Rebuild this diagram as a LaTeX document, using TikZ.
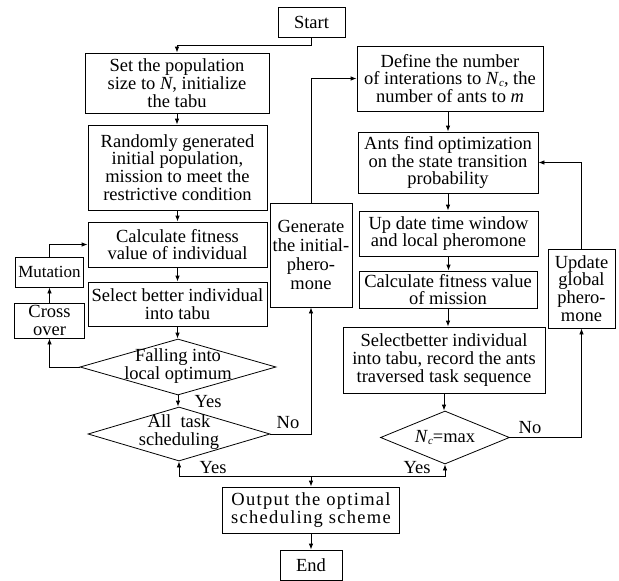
\documentclass[tikz,border=0pt]{standalone}
\usepackage{fontspec}
\setmainfont{Liberation Serif}
\usetikzlibrary{shapes.geometric,arrows.meta}
\newcommand{\mysubc}{\raisebox{-2pt}{\fontsize{11}{11}\selectfont\textit{c}}}
\begin{document}
\begin{tikzpicture}[x=1pt,y=-1pt,
  wh/.style 2 args={minimum width=#1pt,minimum height=#2pt},
  box/.style={draw,line width=0.8pt,inner sep=0pt,align=center,
    font=\fontsize{18.5}{17.7}\selectfont},
  dia/.style={draw,diamond,line width=0.8pt,inner sep=0pt},
  txt/.style={inner sep=0pt,align=center,font=\fontsize{18.5}{18.5}\selectfont},
  lbl/.style={inner sep=0pt,font=\fontsize{18.5}{18.5}\selectfont},
  arr/.style={line width=0.8pt,-{Latex[length=6pt,width=4.5pt]}},
  ln/.style={line width=0.8pt}]
\useasboundingbox (0,0) rectangle (619,581);

% left column
\node[box,wh={67}{30}] (start) at (311.5,22) {Start};
\node[box,wh={184}{60}] (set) at (177,83) {Set the population\\size to \textit{N}, initialize\\the tabu};
\node[box,wh={179}{85}] (rand) at (177.5,167.5) {Randomly generated\\initial population,\\mission to meet the\\restrictive condition};
\node[box,wh={179}{45}] (calc) at (177.5,244.5) {Calculate fitness\\value of individual};
\node[box,wh={179}{44}] (sel) at (177.5,304) {Select better individual\\into tabu};
\node[dia,wh={196}{56}] (fall) at (178,367) {};
\node[txt] (fallt) at (178,366) {Falling into\\local optimum};
\node[box,wh={68}{30},font=\fontsize{17}{17}\selectfont] (mut) at (49.5,272) {Mutation};
\node[box,wh={70}{35}] (cross) at (49.5,320.5) {Cross\\over};
\node[dia,wh={182}{54}] (all) at (179,434) {};
\node[txt] (allt) at (179,432) {All\ \ task\\scheduling};
\node[box,wh={82}{104},font=\fontsize{18.5}{18.8}\selectfont] (gen) at (311,255) {Generate\\the initial-\\phero-\\mone};

% right column
\node[box,wh={186}{65}] (def) at (450,78.5) {Define the number\\of interations to \textit{N}\mysubc, the\\number of ants to \textit{m}};
\node[box,wh={180}{61}] (ants) at (448,162.5) {Ants find optimization\\on the state transition\\probability};
\node[box,wh={179}{45}] (upd) at (448.5,233.5) {Up date time window\\and local pheromone};
\node[box,wh={178}{37}] (calm) at (448,289.5) {Calculate fitness value\\of mission};
\node[box,wh={202}{66}] (selb) at (444,360) {Selectbetter individual\\into tabu, record the ants\\traversed task sequence};
\node[dia,wh={129}{53}] (nc) at (445,437.5) {};
\node[txt] (nct) at (445,437.5) {\textit{N}\mysubc=max};
\node[box,wh={67}{79}] (glob) at (581.5,288.5) {Update\\global\\phero-\\mone};

% bottom
\node[box,wh={177}{46},font=\fontsize{18.5}{17.7}\selectfont\addfontfeature{LetterSpace=7}] (out) at (311,510) {Output the optimal\\scheduling scheme};
\node[box,wh={62}{30}] (end) at (311,565) {End};
\coordinate (jj) at (311,476);

% labels
\node[lbl] (y1) at (208,402) {Yes};
\node[lbl] (no1) at (288,423) {No};
\node[lbl] (y2) at (213,468) {Yes};
\node[lbl] (y3) at (417,468) {Yes};
\node[lbl] (no2) at (530,428) {No};

% connectors left
\draw[arr] (start.south) -- ++(0,8) -| (set.north);
\draw[arr] (set.south) -- (set.south |- rand.north);
\draw[arr] (rand.south) -- (calc.north);
\draw[arr] (calc.south) -- (sel.north);
\draw[arr] (sel.south) -- (sel.south |- fall.north);
\draw[arr] (fall.south) -- (fall.south |- all.north);
\draw[arr] (fall.west) -| (cross.south);
\draw[arr] (cross.north) -- (mut.south);
\draw[arr] (mut.north) |- (calc.west);
\draw[arr] (all.east) -| (gen.south);
\draw[arr] (gen.north) |- (def.west);

% connectors right
\draw[arr] (def.south -| ants.north) -- (ants.north);
\draw[arr] (ants.south) -- (ants.south |- upd.north);
\draw[arr] (upd.south) -- (upd.south |- calm.north);
\draw[arr] (calm.south) -- (calm.south |- selb.north);
\draw[arr] (selb.south) -- (selb.south |- nc.north);
\draw[arr] (nc.east) -| (glob.south);
\draw[arr] (glob.north) |- (ants.east);

% bottom
\draw[arr] (jj) -| (all.south);
\draw[arr] (jj) -| (nc.south);
\draw[arr] (jj) -- (out.north);
\draw[arr] (out.south) -- (end.north);
\end{tikzpicture}
\end{document}
